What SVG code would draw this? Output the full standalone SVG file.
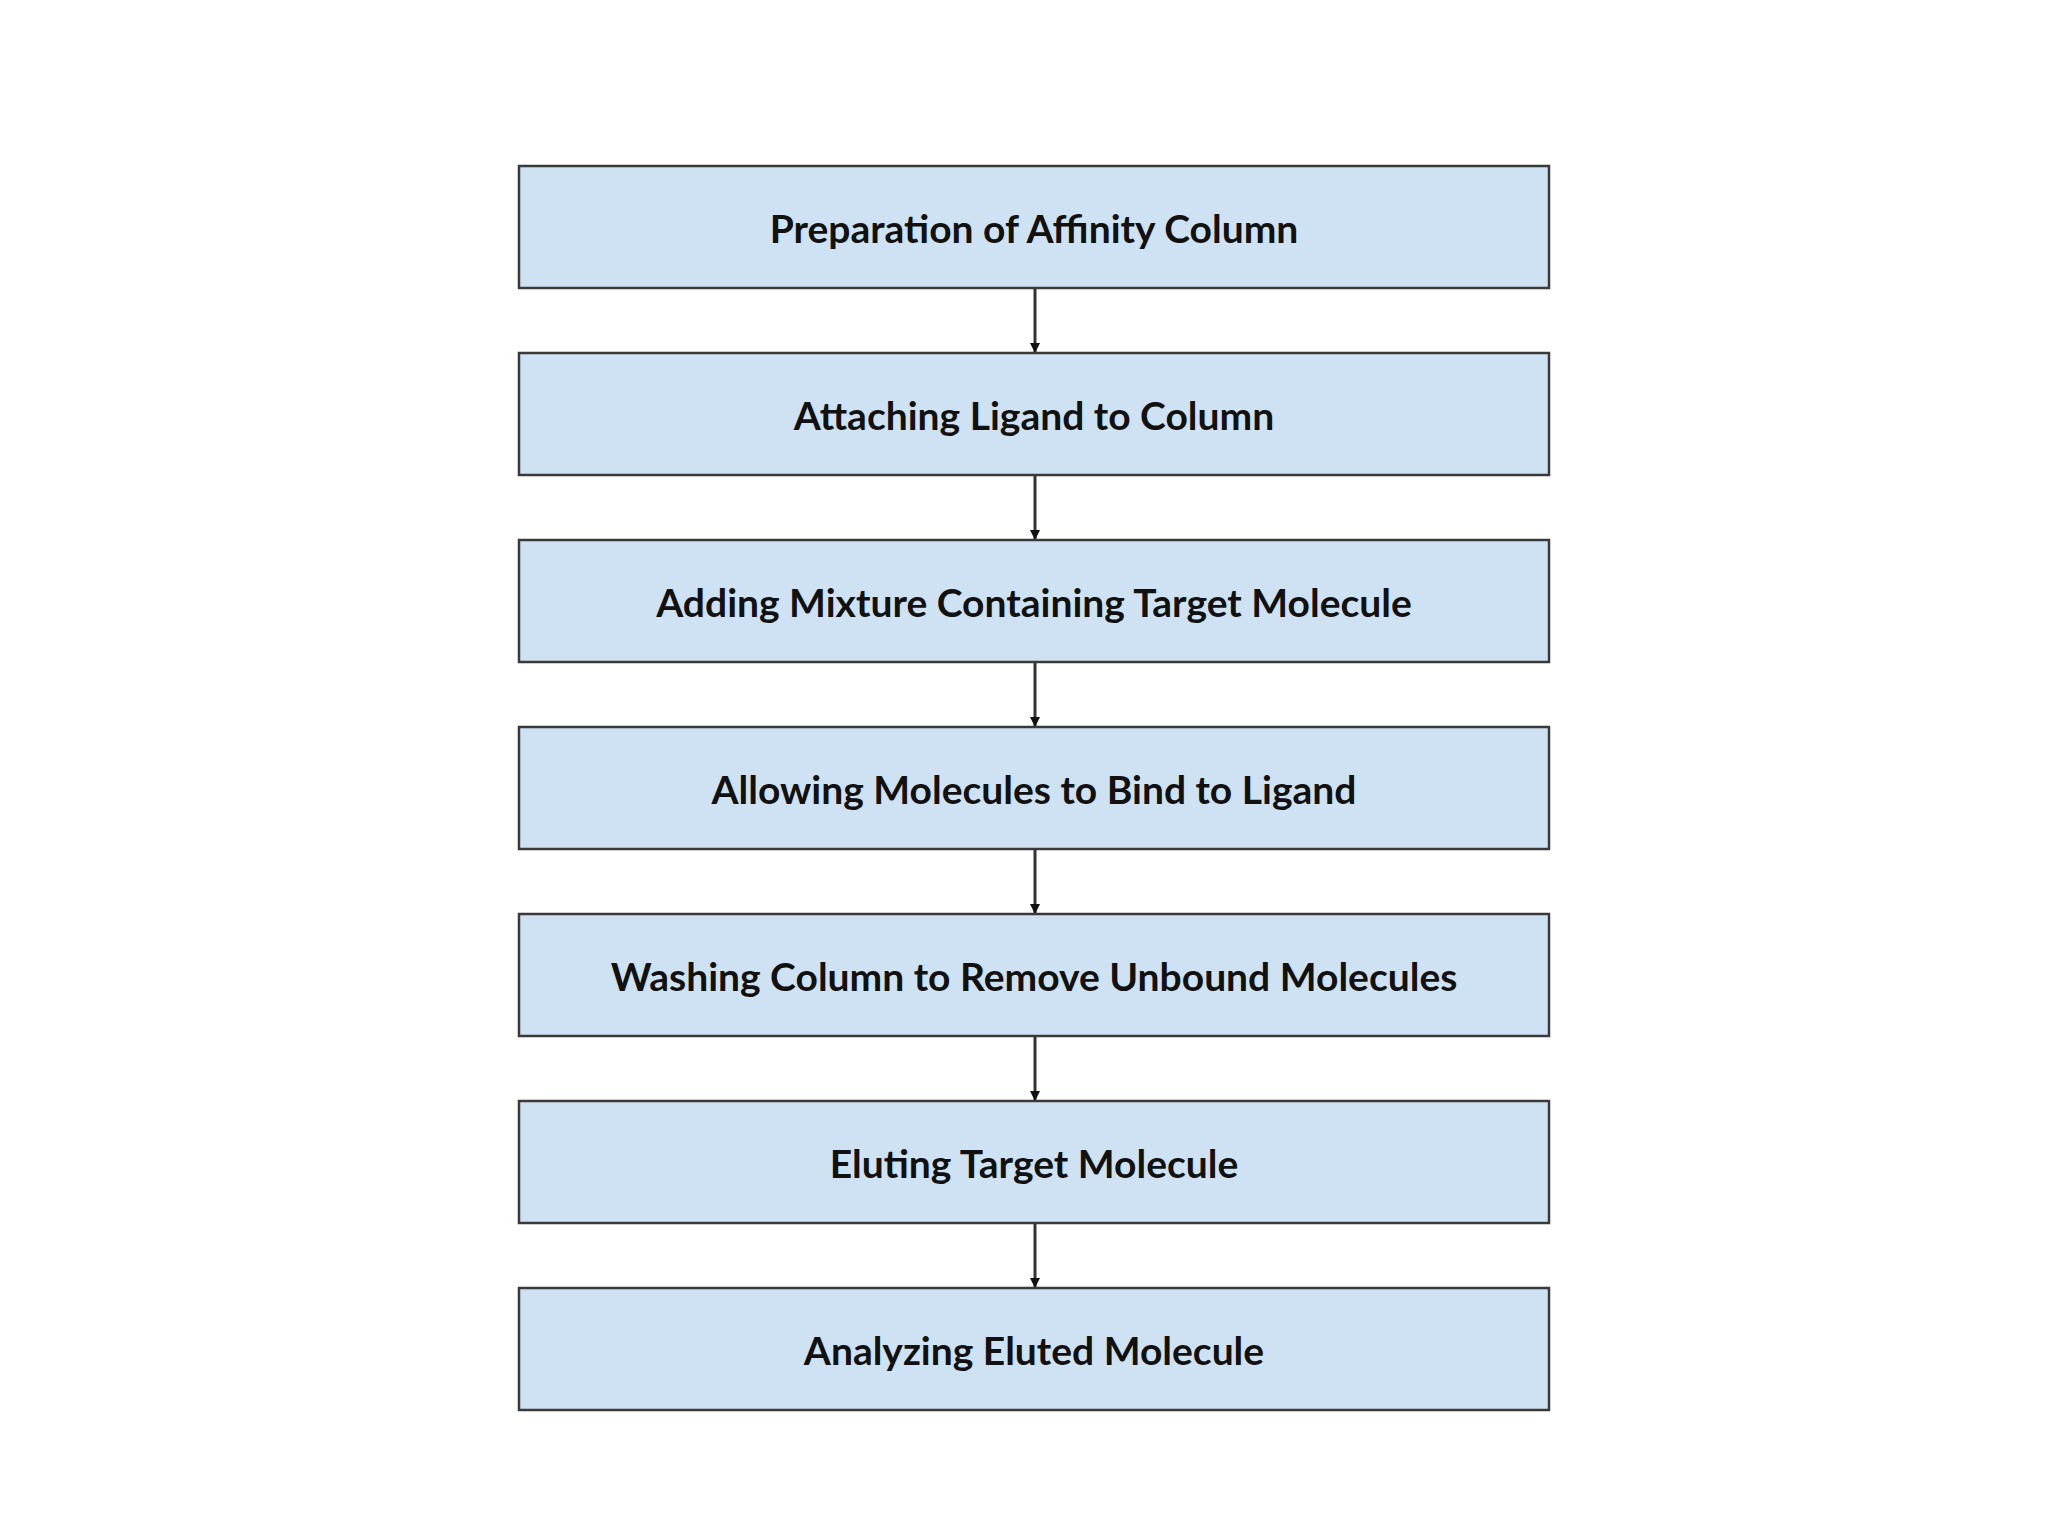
<svg xmlns="http://www.w3.org/2000/svg" width="2048" height="1536" viewBox="0 0 2048 1536">
<style>
.box{fill:#cfe2f3;stroke:#3a3a3a;stroke-width:2.5}
.t{font-family:Lato,"Open Sans",sans-serif;font-weight:bold;font-size:39px;fill:#111;text-anchor:middle;dominant-baseline:central}
.c{stroke:#333;stroke-width:3;fill:none;marker-end:url(#a)}
</style>
<defs><marker id="a" markerWidth="10" markerHeight="10" refX="9" refY="5" orient="auto" markerUnits="userSpaceOnUse" viewBox="0 0 10 10"><path d="M0,0 L10,5 L0,10 z" fill="#111"/></marker></defs>
<rect width="2048" height="1536" fill="#fff"/>
<g id="connectors">
<line class="c" x1="1035" y1="288" x2="1035" y2="352"/>
<line class="c" x1="1035" y1="475" x2="1035" y2="539"/>
<line class="c" x1="1035" y1="662" x2="1035" y2="726"/>
<line class="c" x1="1035" y1="849" x2="1035" y2="913"/>
<line class="c" x1="1035" y1="1036" x2="1035" y2="1100"/>
<line class="c" x1="1035" y1="1223" x2="1035" y2="1287"/>
</g>
<g id="n1"><rect class="box" x="519" y="166" width="1030" height="122"/><text class="t" x="1034" y="228">Preparation of Affinity Column</text></g>
<g id="n2"><rect class="box" x="519" y="353" width="1030" height="122"/><text class="t" x="1034" y="415">Attaching Ligand to Column</text></g>
<g id="n3"><rect class="box" x="519" y="540" width="1030" height="122"/><text class="t" x="1034" y="602">Adding Mixture Containing Target Molecule</text></g>
<g id="n4"><rect class="box" x="519" y="727" width="1030" height="122"/><text class="t" x="1034" y="789">Allowing Molecules to Bind to Ligand</text></g>
<g id="n5"><rect class="box" x="519" y="914" width="1030" height="122"/><text class="t" x="1034" y="976">Washing Column to Remove Unbound Molecules</text></g>
<g id="n6"><rect class="box" x="519" y="1101" width="1030" height="122"/><text class="t" x="1034" y="1163">Eluting Target Molecule</text></g>
<g id="n7"><rect class="box" x="519" y="1288" width="1030" height="122"/><text class="t" x="1034" y="1350">Analyzing Eluted Molecule</text></g>
</svg>
